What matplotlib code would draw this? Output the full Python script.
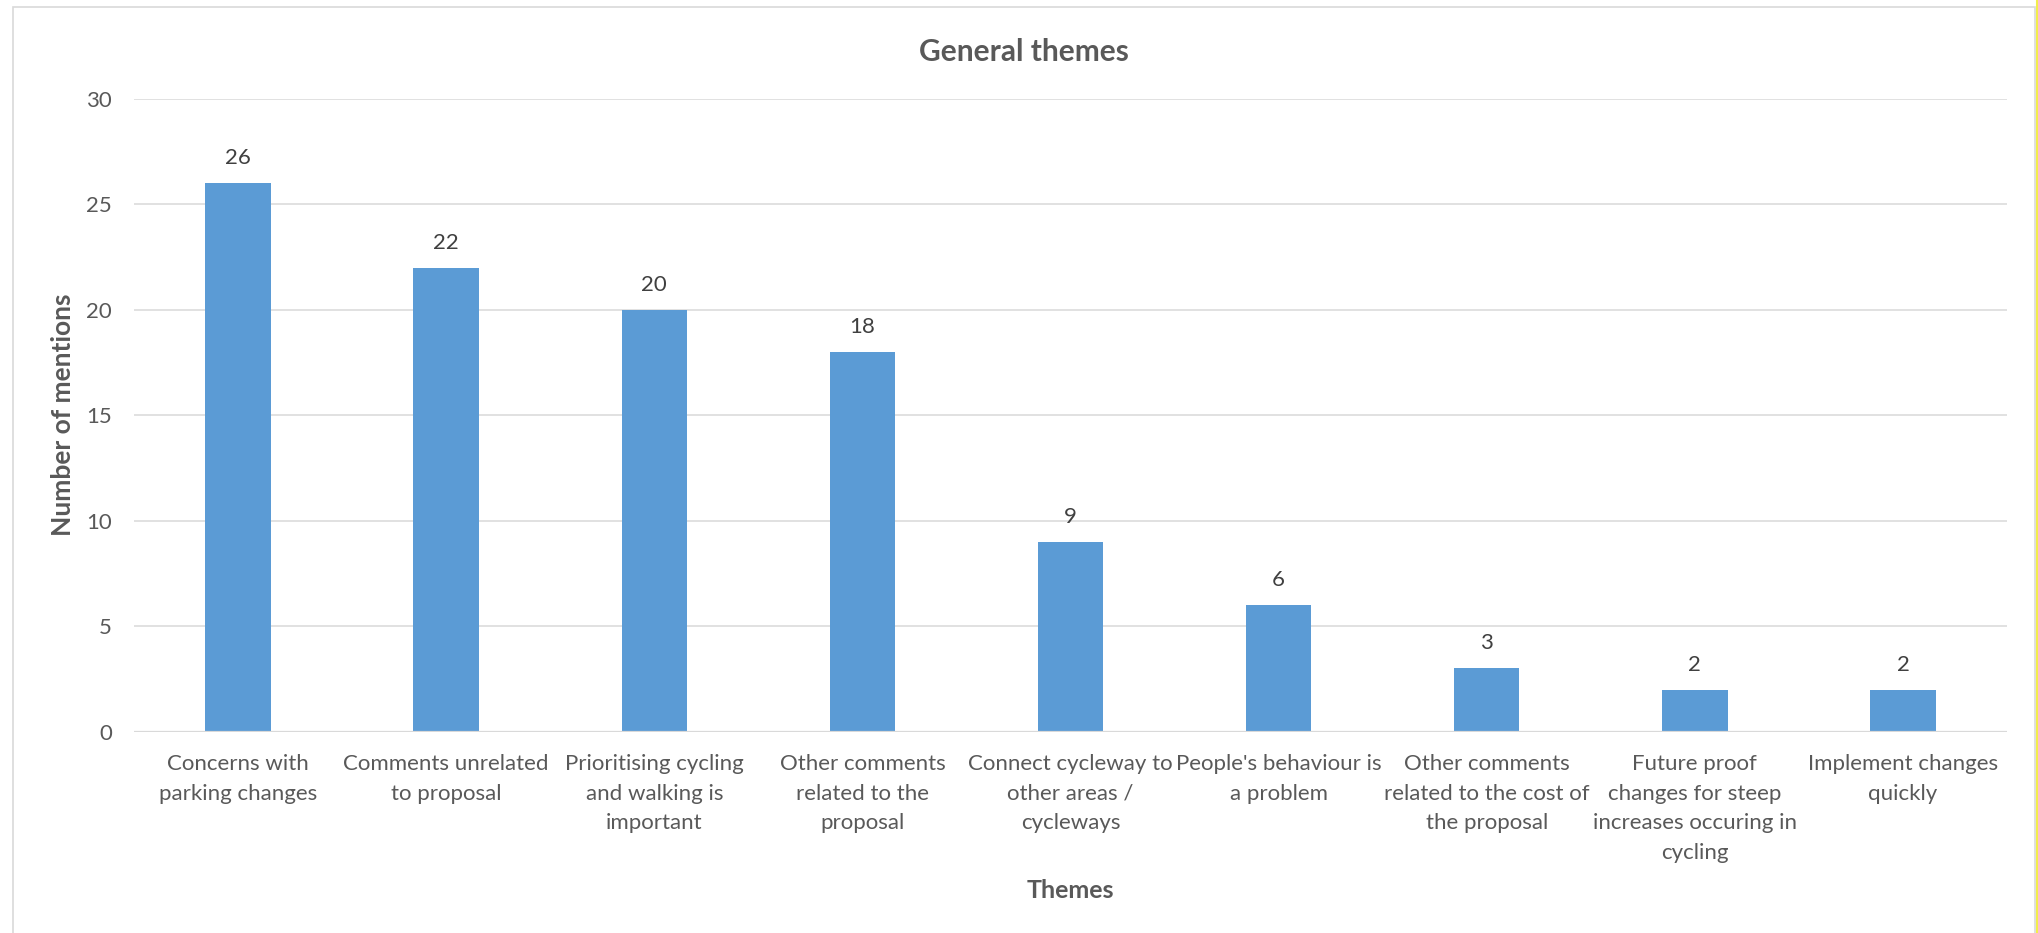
import matplotlib.pyplot as plt
from matplotlib.patches import Rectangle
from matplotlib.lines import Line2D

themes = [
    "Concerns with\nparking changes",
    "Comments unrelated\nto proposal",
    "Prioritising cycling\nand walking is\nimportant",
    "Other comments\nrelated to the\nproposal",
    "Connect cycleway to\nother areas /\ncycleways",
    "People's behaviour is\na problem",
    "Other comments\nrelated to the cost of\nthe proposal",
    "Future proof\nchanges for steep\nincreases occuring in\ncycling",
    "Implement changes\nquickly",
]
mentions = [26, 22, 20, 18, 9, 6, 3, 2, 2]
y_ticks = [0, 5, 10, 15, 20, 25, 30]

bar_color = "#5B9BD5"
grid_color = "#D9D9D9"
text_color = "#595959"
label_color = "#404040"

plt.rcParams["font.family"] = ["Lato", "DejaVu Sans"]

W, H = 2038, 933
fig = plt.figure(figsize=(W / 100, H / 100), dpi=100)

# Chart area border (bottom edge runs off the picture) and the yellow strip at the right
fig.add_artist(Rectangle((13 / W, -0.05), (2035 - 13) / W, 1.05 - 7 / H,
                         transform=fig.transFigure, fill=False,
                         edgecolor=grid_color, linewidth=1.2))
fig.add_artist(Line2D([2037 / W, 2037 / W], [0, 1], transform=fig.transFigure,
                      color="#F2EE4A", linewidth=1.5))

ax = fig.add_axes([134 / W, 1 - 731.7 / H, (2007 - 134) / W, (731.7 - 98.8) / H])

x = range(len(themes))
ax.bar(x, mentions, width=0.315, color=bar_color, zorder=3)

for i, v in enumerate(mentions):
    ax.annotate(str(v), (i, v), xytext=(0, 18), textcoords="offset points",
                ha="center", va="center", fontsize=16, color=label_color)

ax.set_xlim(-0.5, len(themes) - 0.5)
ax.set_ylim(0, 30)
ax.set_yticks(y_ticks)
ax.set_yticklabels([str(t) for t in y_ticks], fontsize=16, color=text_color)
ax.set_xticks(list(x))
ax.set_xticklabels(themes, fontsize=16, color=text_color, linespacing=1.6)
ax.tick_params(axis="both", length=0)
ax.tick_params(axis="y", pad=16)
ax.tick_params(axis="x", pad=16)

for t in y_ticks[1:]:
    ax.axhline(t, color=grid_color, linewidth=1.1, zorder=1)
ax.axhline(0, color=grid_color, linewidth=1.6, zorder=4)

for s in ax.spines.values():
    s.set_visible(False)

fig.text(1024 / W, 1 - 52 / H, "General themes", ha="center", va="center",
         fontsize=21.5, fontweight="bold", color=text_color)
fig.text(1070 / W, 1 - 890 / H, "Themes", ha="center", va="center",
         fontsize=18, fontweight="bold", color=text_color)
fig.text(63 / W, 1 - 415 / H, "Number of mentions", ha="center", va="center",
         rotation=90, fontsize=19, fontweight="bold", color=text_color)

fig.savefig("out.png", dpi=100)
